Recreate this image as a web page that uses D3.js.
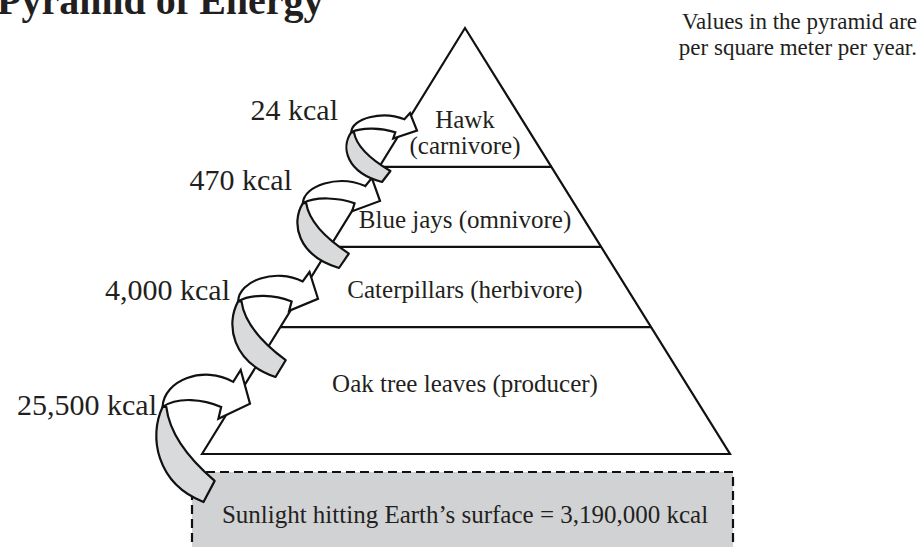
<!DOCTYPE html>
<html>
<head>
<meta charset="utf-8">
<script src="https://cdn.jsdelivr.net/npm/d3@7"></script>
<style>
  body { margin: 0; background: #fff; }
  text { font-family: "Liberation Serif", "Times New Roman", serif; fill: #231f20; }
</style>
</head>
<body>
<div id="chart"></div>
<script>
// Data
const levelNames = [["Oak tree leaves (producer)"], ["Caterpillars (herbivore)"], ["Blue jays (omnivore)"], ["Hawk", "(carnivore)"]];
const energyKcal = [25500, 4000, 470, 24];
const sunlightKcal = 3190000;
const titleText = "Pyramid of Energy";
const noteLines = ["Values in the pyramid are", "per square meter per year."];

const width = 919, height = 547;
const fmt = d3.format(",");

const svg = d3.select("#chart").append("svg")
  .attr("width", width)
  .attr("height", height);

// Pyramid geometry (fraction of height -> pixels)
const baseY = 454, apexY = 28, apexX = 465, baseL = 202, baseR = 730;
const y = d3.scaleLinear().domain([0, 1]).range([baseY, apexY]);
const leftX = d3.scaleLinear().domain([0, 1]).range([baseL, apexX]);
const rightX = d3.scaleLinear().domain([0, 1]).range([baseR, apexX]);
const breaks = [0, 0.298, 0.486, 0.674, 1];

// Sunlight box (dashed)
svg.append("rect")
  .attr("x", 192).attr("y", 472)
  .attr("width", 541).attr("height", 110)
  .attr("fill", "#d1d2d4")
  .attr("stroke", "#111")
  .attr("stroke-width", 2.2)
  .attr("stroke-dasharray", "9,5");

svg.append("text")
  .attr("x", apexX).attr("y", 523)
  .attr("text-anchor", "middle")
  .style("font-size", "25px")
  .text("Sunlight hitting Earth\u2019s surface = " + fmt(sunlightKcal) + " kcal");

// Pyramid outline
svg.append("path")
  .attr("d", d3.line()([[leftX(0), y(0)], [apexX, y(1)], [rightX(0), y(0)]]) + "Z")
  .attr("fill", "#fff")
  .attr("stroke", "#111")
  .attr("stroke-width", 2.2)
  .attr("stroke-linejoin", "miter");

// Level dividers
svg.selectAll(".divider")
  .data(breaks.slice(1, 4))
  .enter().append("line")
  .attr("class", "divider")
  .attr("x1", d => leftX(d)).attr("x2", d => rightX(d))
  .attr("y1", d => y(d)).attr("y2", d => y(d))
  .attr("stroke", "#111")
  .attr("stroke-width", 2.2);

// Level labels
const labelBase = [[392], [298], [228], [128, 154]];
levelNames.forEach((lines, i) => {
  lines.forEach((t, j) => {
    svg.append("text")
      .attr("x", apexX).attr("y", labelBase[i][j])
      .attr("text-anchor", "middle")
      .style("font-size", "25px")
      .text(t);
  });
});

// Curved energy arrows, one per level, each fitted into its box [x0, x1, y0, y1]
const arrowBoxes = [[157, 250, 370, 502], [233, 318, 272, 377], [298, 380, 178, 268], [347, 417, 113, 182]];
const labelAnchor = [[157, 415], [230, 300], [292, 190], [338, 120]];

function arrowPaths(box) {
  const sx = d3.scaleLinear().domain([0, 1]).range([box[0], box[1]]);
  const sy = d3.scaleLinear().domain([0, 1]).range([box[2], box[3]]);
  const p = (u, v) => [sx(u), sy(v)];
  // underside of the ribbon (grey)
  const g = d3.path();
  g.moveTo(...p(0.06, 0.28));
  g.bezierCurveTo(...p(-0.09, 0.5), ...p(-0.01, 0.86), ...p(0.5, 1));
  g.lineTo(...p(0.62, 0.84));
  g.bezierCurveTo(...p(0.42, 0.72), ...p(0.14, 0.52), ...p(0.1, 0.28));
  g.closePath();
  // top of the ribbon with the head (white)
  const w = d3.path();
  w.moveTo(...p(0.06, 0.28));
  w.bezierCurveTo(...p(0.07, 0.08), ...p(0.5, -0.04), ...p(0.82, 0.09));
  w.lineTo(...p(0.9, 0));
  w.lineTo(...p(1, 0.255));
  w.lineTo(...p(0.66, 0.37));
  w.lineTo(...p(0.69, 0.28));
  w.bezierCurveTo(...p(0.5, 0.22), ...p(0.22, 0.2), ...p(0.06, 0.28));
  w.closePath();
  return [g.toString(), w.toString()];
}

const arrows = svg.selectAll(".arrow")
  .data(energyKcal)
  .enter().append("g")
  .attr("class", "arrow");

arrows.each(function(d, i) {
  const [under, top] = arrowPaths(arrowBoxes[i]);
  const g = d3.select(this);
  g.append("path").attr("d", under)
    .attr("fill", "#d9dadc").attr("stroke", "#111").attr("stroke-width", 2.2).attr("stroke-linejoin", "round");
  g.append("path").attr("d", top)
    .attr("fill", "#fff").attr("stroke", "#111").attr("stroke-width", 2.2).attr("stroke-linejoin", "miter");
  g.append("text")
    .attr("x", labelAnchor[i][0]).attr("y", labelAnchor[i][1])
    .attr("text-anchor", "end")
    .style("font-size", "30px")
    .text(fmt(d) + " kcal");
});

// Title (clipped at top edge) and note
svg.append("text")
  .attr("x", -3).attr("y", 14)
  .style("font-size", "40px")
  .style("font-weight", "bold")
  .text(titleText);

svg.selectAll(".note")
  .data(noteLines)
  .enter().append("text")
  .attr("class", "note")
  .attr("x", 917)
  .attr("y", (d, i) => 29 + i * 26)
  .attr("text-anchor", "end")
  .style("font-size", "23px")
  .text(d => d);
</script>
</body>
</html>
